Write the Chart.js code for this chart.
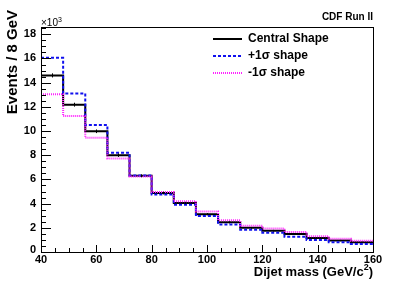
<!DOCTYPE html>
<html>
<head>
<meta charset="utf-8">
<script src="https://cdn.jsdelivr.net/npm/chart.js@4"></script>
<style>
  html, body { margin: 0; padding: 0; background: #fff; }
</style>
</head>
<body>
<canvas id="chart" width="415" height="281"></canvas>
<script>
'use strict';

// histogram data (units of 10^3 events per 8 GeV bin)
const binEdges = [40, 48, 56, 64, 72, 80, 88, 96, 104, 112, 120, 128, 136, 144, 152, 160];
const central = [14.6, 12.18, 9.98, 8.0, 6.3, 4.87, 4.05, 3.13, 2.45, 2.0, 1.76, 1.49, 1.15, 0.95, 0.8];
const centralErr = [0.17, 0.16, 0.15, 0.14, 0.12, 0.11, 0.1, 0.09, 0.08, 0.07, 0.07, 0.06, 0.06, 0.05, 0.05];
const plusSigma = [16.05, 13.1, 10.5, 8.2, 6.32, 4.75, 3.9, 2.98, 2.28, 1.84, 1.6, 1.27, 1.0, 0.8, 0.66];
const minusSigma = [13.05, 11.25, 9.45, 7.73, 6.25, 4.95, 4.2, 3.35, 2.63, 2.16, 1.94, 1.66, 1.3, 1.1, 0.92];
const seriesLabels = ['Central Shape', '+1\u03c3 shape', '-1\u03c3 shape'];
const seriesColors = ['#000000', '#1010ee', '#ff22ff'];

// axis ticks
const xTicks = [40, 60, 80, 100, 120, 140, 160];
const yTicks = [0, 2, 4, 6, 8, 10, 12, 14, 16, 18];
const xMinorStep = 5;
const yMinorStep = 0.5;
const yMax = 18.6;

const FONT = '"Liberation Sans", Arial, Helvetica, sans-serif';

// turn bin contents into step points (left edges + closing right edge)
function toSteps(vals) {
  return binEdges.map((e, i) => ({ x: e, y: vals[Math.min(i, vals.length - 1)] }));
}

// frame, inward ticks, labels, titles, legend, error bars
const rootStyle = {
  id: 'rootStyle',
  afterDatasetsDraw(chart) {
    const ctx = chart.ctx;
    const xs = chart.scales.x;
    const ys = chart.scales.y;

    // error bars on the central shape
    ctx.save();
    ctx.strokeStyle = '#000';
    ctx.lineWidth = 1;
    for (let i = 0; i < central.length; i++) {
      let cx = Math.round(xs.getPixelForValue((binEdges[i] + binEdges[i + 1]) / 2)) + 0.5;
      ctx.beginPath();
      ctx.moveTo(cx, ys.getPixelForValue(central[i] + centralErr[i]));
      ctx.lineTo(cx, ys.getPixelForValue(central[i] - centralErr[i]));
      ctx.stroke();
    }
    ctx.restore();
  },
  afterDraw(chart) {
    const ctx = chart.ctx;
    const a = chart.chartArea;
    const xs = chart.scales.x;
    const ys = chart.scales.y;
    ctx.save();

    // frame
    ctx.strokeStyle = '#000';
    ctx.lineWidth = 1;
    ctx.strokeRect(Math.round(a.left) + 0.5, Math.round(a.top) + 0.5,
      Math.round(a.right - a.left), Math.round(a.bottom - a.top));

    // y ticks
    ctx.beginPath();
    for (let k = 0; k * yMinorStep <= yMax; k++) {
      let v = k * yMinorStep;
      let py = Math.round(ys.getPixelForValue(v)) + 0.5;
      let len = yTicks.includes(v) ? 10 : 5;
      ctx.moveTo(a.left, py);
      ctx.lineTo(a.left + len, py);
    }
    // x ticks
    for (let v = binEdges[0]; v <= binEdges[binEdges.length - 1]; v += xMinorStep) {
      let px = Math.round(xs.getPixelForValue(v)) + 0.5;
      let len = xTicks.includes(v) ? 7 : 4;
      ctx.moveTo(px, a.bottom);
      ctx.lineTo(px, a.bottom - len);
    }
    ctx.stroke();

    // tick labels
    ctx.fillStyle = '#000';
    ctx.font = 'bold 11px ' + FONT;
    ctx.textAlign = 'right';
    ctx.textBaseline = 'middle';
    yTicks.forEach(v => {
      ctx.fillText(String(v), a.left - 5, ys.getPixelForValue(v) - (v === 0 ? 2 : 0));
    });
    ctx.textAlign = 'center';
    ctx.textBaseline = 'top';
    xTicks.forEach(v => {
      ctx.fillText(String(v), xs.getPixelForValue(v), a.bottom + 2);
    });

    // exponent label
    ctx.font = '10px ' + FONT;
    ctx.textAlign = 'left';
    ctx.textBaseline = 'alphabetic';
    ctx.fillText('\u00d710', a.left, a.top - 1);
    let w = ctx.measureText('\u00d710').width;
    ctx.font = '7px ' + FONT;
    ctx.fillText('3', a.left + w, a.top - 5);

    // x axis title, right aligned
    ctx.textAlign = 'right';
    ctx.textBaseline = 'alphabetic';
    ctx.font = 'bold 9px ' + FONT;
    let supW = ctx.measureText('2').width;
    ctx.font = 'bold 13px ' + FONT;
    let closeW = ctx.measureText(')').width;
    let xr = a.right;
    ctx.fillText(')', xr, 276);
    ctx.font = 'bold 9px ' + FONT;
    ctx.fillText('2', xr - closeW, 270);
    ctx.font = 'bold 13px ' + FONT;
    ctx.fillText('Dijet mass (GeV/c', xr - closeW - supW, 276);

    // y axis title
    ctx.save();
    ctx.translate(17, 10);
    ctx.rotate(-Math.PI / 2);
    ctx.font = 'bold 15px ' + FONT;
    ctx.textAlign = 'right';
    ctx.fillText('Events / 8 GeV', 0, 0);
    ctx.restore();

    // experiment label
    ctx.font = 'bold 10px ' + FONT;
    ctx.textAlign = 'right';
    ctx.textBaseline = 'middle';
    ctx.fillText('CDF Run II', a.right, 17);

    // legend
    chart.data.datasets.forEach((ds, i) => {
      let ly = Math.round(39 + i * 17.2);
      if (i === 2) {
        // fine dotted sample
        ctx.fillStyle = seriesColors[i];
        for (let x = 213; x < 242; x += 2) {
          ctx.fillRect(x, ly - 1, 1, 2);
        }
      } else {
        ctx.beginPath();
        ctx.strokeStyle = seriesColors[i];
        ctx.lineWidth = 2;
        ctx.setLineDash(ds.borderDash || []);
        ctx.moveTo(213, ly);
        ctx.lineTo(242, ly);
        ctx.stroke();
        ctx.setLineDash([]);
      }
      ctx.fillStyle = '#000';
      ctx.font = 'bold 12px ' + FONT;
      ctx.textAlign = 'left';
      ctx.textBaseline = 'middle';
      ctx.fillText(ds.label, 248, ly);
    });

    ctx.restore();
  }
};

const ctx = document.getElementById('chart').getContext('2d');

let chartData = {
  type: 'line',
  data: {
    datasets: [{
      label: seriesLabels[0],
      data: toSteps(central),
      borderColor: seriesColors[0],
      borderWidth: 2,
      stepped: 'before',
      order: 3
    },
    {
      label: seriesLabels[1],
      data: toSteps(plusSigma),
      borderColor: seriesColors[1],
      borderWidth: 2,
      borderDash: [3, 2],
      stepped: 'before',
      order: 2
    },
    {
      label: seriesLabels[2],
      data: toSteps(minusSigma),
      borderColor: seriesColors[2],
      borderWidth: 2,
      borderDash: [1, 1],
      stepped: 'before',
      order: 1
    }]
  },
  options: {
    responsive: false,
    devicePixelRatio: 1,
    animation: false,
    layout: { padding: { left: 41, right: 42, top: 27, bottom: 29 } },
    elements: { point: { radius: 0 }, line: { fill: false, tension: 0 } },
    plugins: { legend: { display: false }, tooltip: { enabled: false } },
    scales: {
      x: { type: 'linear', min: binEdges[0], max: binEdges[binEdges.length - 1], display: false },
      y: { type: 'linear', min: 0, max: yMax, display: false }
    }
  },
  plugins: [rootStyle]
};

const myChart = new Chart(ctx, chartData); //eslint-disable-line
</script>
</body>
</html>
